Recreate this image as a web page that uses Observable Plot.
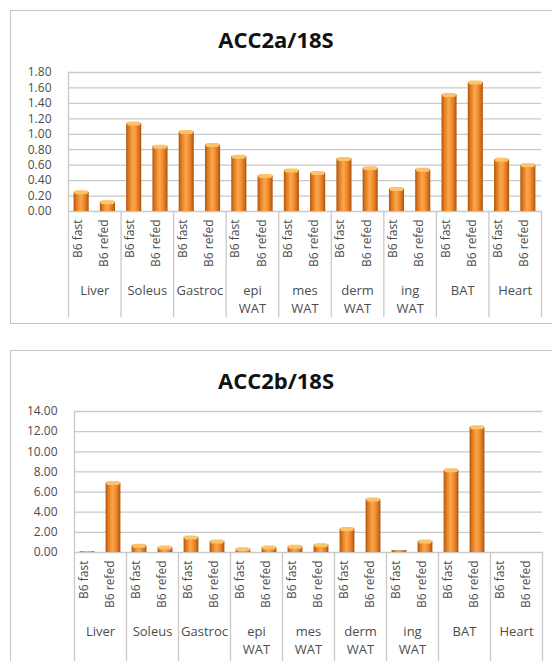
<!DOCTYPE html>
<html>
<head>
<meta charset="utf-8">
<script src="https://cdn.jsdelivr.net/npm/d3@7"></script>
<script src="https://cdn.jsdelivr.net/npm/@observablehq/plot@0.6"></script>
<style>
  html, body { margin: 0; padding: 0; background: #fff; }
  body { width: 552px; height: 661px; overflow: hidden; position: relative; font-family: "Open Sans", sans-serif; }
  .box { position: absolute; border: 1.5px solid #c4c4c4; box-sizing: border-box; }
  .title { position: absolute; left: 0; width: 552px; text-align: center; font-family: "Open Sans", sans-serif; font-weight: bold; font-size: 22px; color: #111; }
  .chart { position: absolute; left: 0; }
</style>
</head>
<body>
<svg width="0" height="0" style="position:absolute">
  <defs>
    <linearGradient id="cyl" x1="0" x2="1" y1="0" y2="0">
      <stop offset="0" stop-color="#b0560f"/>
      <stop offset="0.18" stop-color="#e07a1e"/>
      <stop offset="0.45" stop-color="#fba64c"/>
      <stop offset="0.62" stop-color="#f6953a"/>
      <stop offset="0.85" stop-color="#d9721a"/>
      <stop offset="1" stop-color="#a34f0e"/>
    </linearGradient>
  </defs>
</svg>
<div class="box" style="left:10px; top:10px; width:560px; height:314px;"></div>
<div class="box" style="left:10px; top:350px; width:560px; height:340px;"></div>
<div class="title" style="top:24px;">ACC2a/18S</div>
<div class="title" style="top:365px;">ACC2b/18S</div>
<div id="c1" class="chart" style="top:55px;"></div>
<div id="c2" class="chart" style="top:395px;"></div>
<script>
const groups = ["Liver", "Soleus", "Gastroc", "epi\nWAT", "mes\nWAT", "derm\nWAT", "ing\nWAT", "BAT", "Heart"];
const conditions = ["B6 fast", "B6 refed"];
const acc2aFast  = [0.25, 1.14, 1.03, 0.71, 0.53, 0.68, 0.29, 1.51, 0.67];
const acc2aRefed = [0.12, 0.84, 0.86, 0.46, 0.50, 0.56, 0.54, 1.67, 0.60];
const acc2bFast  = [0.08, 0.67, 1.50, 0.33, 0.57, 2.33, 0.20, 8.17, 0.00];
const acc2bRefed = [6.90, 0.50, 1.10, 0.50, 0.73, 5.27, 1.10, 12.43, 0.00];
const ticksA = [0, 0.2, 0.4, 0.6, 0.8, 1.0, 1.2, 1.4, 1.6, 1.8];
const ticksB = [0, 2, 4, 6, 8, 10, 12, 14];

function rows(fast, refed) {
  const out = [];
  groups.forEach((g, k) => {
    [fast[k], refed[k]].forEach((v, j) => out.push({i: 2 * k + j, group: g, cond: conditions[j], value: v}));
  });
  return out;
}

function chart(fast, refed, ticks, o) {
  const data = rows(fast, refed);
  const n = data.length;
  const bounds = groups.map((g, k) => 2 * k).concat([n]);
  const grid = "#c9c9c9";
  const top = ticks[ticks.length - 1];
  return Plot.plot({
    width: 552,
    height: o.height,
    marginTop: o.marginTop,
    marginBottom: o.marginBottom,
    marginLeft: o.marginLeft,
    marginRight: o.marginRight,
    style: {fontFamily: "'Open Sans', sans-serif", overflow: "visible", background: "transparent"},
    x: {type: "linear", domain: [0, n]},
    y: {domain: [0, top]},
    marks: [
      Plot.ruleY(ticks, {stroke: grid, strokeWidth: 1.3}),
      Plot.ruleX([0], {stroke: grid, strokeWidth: 1.3}),
      Plot.axisX({ticks: bounds, tickSize: o.sepLen, tickFormat: () => "", stroke: grid, strokeWidth: 1.3, label: null}),
      Plot.axisY({ticks, tickFormat: d3.format(".2f"), tickSize: 0, tickPadding: o.tickPad, fontSize: 12, fill: "#4d4d4d", label: null}),
      Plot.rectY(data, {x1: "i", x2: d => d.i + 1, y: "value", insetLeft: 5.6, insetRight: 5.6, fill: "url(#cyl)"}),
      Plot.ruleY(data.filter(d => d.value > top * 0.02), {x1: "i", x2: d => d.i + 1, y: "value", insetLeft: 8.2, insetRight: 8.2, stroke: "#fcc36a", strokeWidth: 4, strokeLinecap: "round"}),
      Plot.text(data, {x: d => d.i + 0.5, frameAnchor: "bottom", text: "cond", rotate: -90, textAnchor: "end", dy: 8, fontSize: 12, fill: "#4d4d4d"}),
      Plot.text(groups, {x: (d, k) => 2 * k + 1, frameAnchor: "bottom", text: d => d, lineAnchor: "top", lineHeight: 1.35, dy: 71, fontSize: 13, fill: "#4d4d4d"})
    ]
  });
}

document.getElementById("c1").appendChild(chart(acc2aFast, acc2aRefed, ticksA, {height: 270, marginTop: 17, marginBottom: 114, marginLeft: 68, marginRight: 11, sepLen: 106, tickPad: 17}));
document.getElementById("c2").appendChild(chart(acc2bFast, acc2bRefed, ticksB, {height: 266, marginTop: 16, marginBottom: 109, marginLeft: 74, marginRight: 10, sepLen: 109, tickPad: 17}));
</script>
</body>
</html>
